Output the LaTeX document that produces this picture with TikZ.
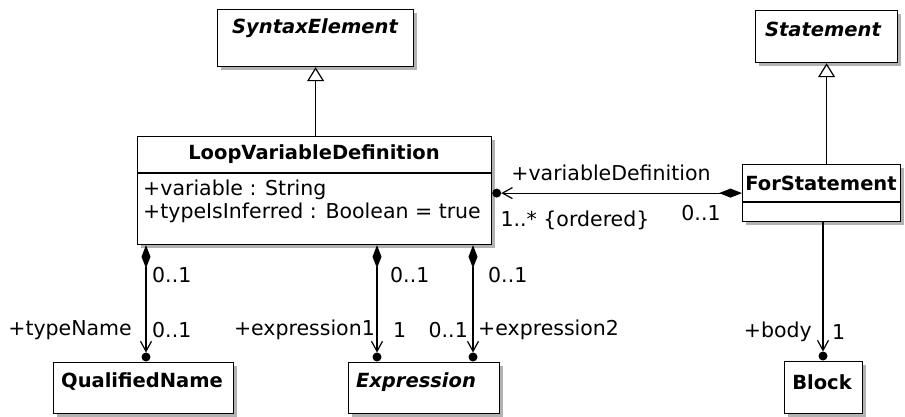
\documentclass[tikz,border=0pt]{standalone}
\usepackage{fontspec}
\setmainfont{DejaVu Sans}
\usetikzlibrary{arrows.meta,shadows,calc}
\begin{document}
\begin{tikzpicture}[x=1pt,y=-1pt,
  cls/.style={draw, line width=1.2pt, fill=white, inner sep=0pt, anchor=north west,
    drop shadow={shadow xshift=3pt,shadow yshift=-3pt,fill=black!30,opacity=1}},
  nm/.style={font=\fontsize{19.5}{22}\selectfont\bfseries, inner sep=0pt},
  nmi/.style={font=\fontsize{19.5}{22}\selectfont\bfseries\itshape, inner sep=0pt},
  lbl/.style={font=\fontsize{20.5}{23}\selectfont, inner sep=0pt},
  conn/.style={line width=1.2pt},
  gen/.style={conn, -{Triangle[open,length=14pt,width=17pt,fill=white]}},
  comp/.style={conn, {Diamond[length=23pt,width=9pt]}-{Straight Barb[length=10pt,width=11pt]}},
  own/.style={fill=black}
]
\useasboundingbox (0,0) rectangle (905,416);

% classes
\node[cls, minimum width=196pt, minimum height=57pt] (se) at (217,9) {};
\node[nmi] (set) at (315,28) {SyntaxElement};

\node[cls, minimum width=142pt, minimum height=52pt] (st) at (755,10) {};
\node[nmi] (stt) at (823,29) {Statement};

\node[cls, minimum width=354pt, minimum height=108pt] (lvd) at (137,136) {};
\node[nm] (lvdt) at (314,154) {LoopVariableDefinition};
\draw[conn] ($(lvd.north west)+(0,37)$) -- ($(lvd.north east)+(0,37)$);
\node[lbl, anchor=west] (a1) at (143,190) {+variable : String};
\node[lbl, anchor=west] (a2) at (143,213) {+typeIsInferred : Boolean = true};

\node[cls, minimum width=158pt, minimum height=57pt] (fs) at (742,164) {};
\node[nm] (fst) at (821,183) {ForStatement};
\draw[conn] ($(fs.north west)+(0,38)$) -- ($(fs.north east)+(0,38)$);

\node[cls, minimum width=180pt, minimum height=51pt] (qn) at (53,362) {};
\node[nm] (qnt) at (142,382) {QualifiedName};

\node[cls, minimum width=151pt, minimum height=51pt] (ex) at (348,362) {};
\node[nmi] (ext) at (416,382) {Expression};

\node[cls, minimum width=78pt, minimum height=52pt] (bl) at (784,361) {};
\node[nm] (blt) at (822,382) {Block};

% generalizations
\draw[gen] (se.south |- lvd.north) -- (se.south);
\draw[gen] (st.south |- fs.north) -- (st.south);

% x positions of vertical associations
\coordinate (x1) at (146,0);
\coordinate (x2) at (377,0);
\coordinate (x3) at (473,0);
\coordinate (x4) at (823,0);

% association ForStatement -> LoopVariableDefinition
\coordinate (ownA) at ($(lvd.east |- fs.west)+(4.5,0)$);
\draw[comp] (fs.west) -- ($(ownA)+(4.5,0)$);
\fill[own] (ownA) circle (4.5pt);

% typeName
\coordinate (ownB) at ($(qn.north -| x1)+(0,-5)$);
\draw[comp] (lvd.south -| x1) -- ($(ownB)+(0,-4.5)$);
\fill[own] (ownB) circle (4.5pt);

% expression1
\coordinate (ownC) at ($(ex.north -| x2)+(0,-5)$);
\draw[comp] (lvd.south -| x2) -- ($(ownC)+(0,-4.5)$);
\fill[own] (ownC) circle (4.5pt);

% expression2
\coordinate (ownD) at ($(ex.north -| x3)+(0,-5)$);
\draw[comp] (lvd.south -| x3) -- ($(ownD)+(0,-4.5)$);
\fill[own] (ownD) circle (4.5pt);

% body
\coordinate (ownE) at ($(bl.north -| x4)+(0,-5)$);
\draw[conn, -{Straight Barb[length=10pt,width=11pt]}] (fs.south -| x4) -- ($(ownE)+(0,-4.5)$);
\fill[own] (ownE) circle (4.5pt);

% labels
\node[lbl] (l1) at (611,173) {+variableDefinition};
\node[lbl] (l2) at (575,220) {1..* \{ordered\}};
\node[lbl] (l3) at (701,213) {0..1};

\node[lbl, anchor=west] (l4) at (152,275) {0..1};
\node[lbl, anchor=east] (l5) at (132,330) {+typeName};
\node[lbl, anchor=west] (l6) at (152,330) {0..1};

\node[lbl, anchor=west] (l7) at (390,275) {0..1};
\node[lbl, anchor=east] (l8) at (375,330) {+expression1};
\node[lbl, anchor=west] (l9) at (393,330) {1};

\node[lbl, anchor=west] (l10) at (488,275) {0..1};
\node[lbl, anchor=east] (l11) at (468,330) {0..1};
\node[lbl, anchor=west] (l12) at (478,330) {+expression2};

\node[lbl, anchor=east] (l13) at (812,332) {+body};
\node[lbl, anchor=west] (l14) at (832,332) {1};
\end{tikzpicture}
\end{document}
